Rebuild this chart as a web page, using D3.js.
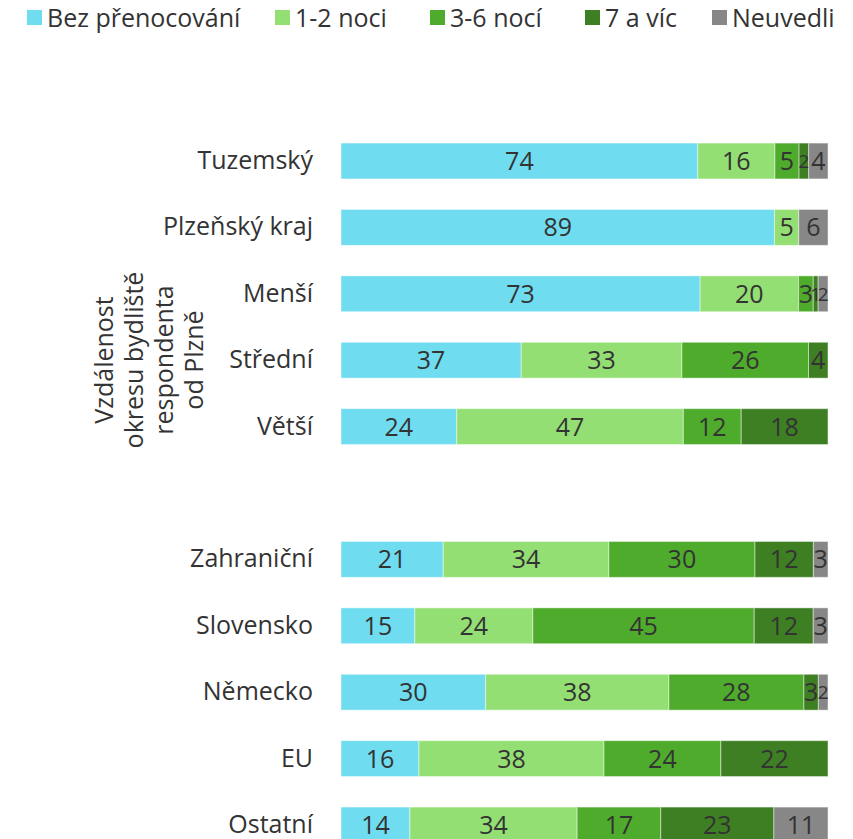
<!DOCTYPE html>
<html>
<head>
<meta charset="utf-8">
<script src="https://cdn.jsdelivr.net/npm/d3@7"></script>
<style>
  body { margin: 0; background: #fff; overflow: hidden; }
  svg text { font-family: "Open Sans", "Noto Sans", sans-serif; }
</style>
</head>
<body>
<div id="chart"></div>
<script>
const width = 853;
const height = 839;
const fontSize = 25;

// data
const categories = ["Tuzemský", "Plzeňský kraj", "Menší", "Střední", "Větší", "",
  "Zahraniční", "Slovensko", "Německo", "EU", "Ostatní"];
const seriesNames = ["Bez přenocování", "1-2 noci", "3-6 nocí", "7 a víc", "Neuvedli"];
const bezPrenocovani = [74, 89, 73, 37, 24, 0, 21, 15, 30, 16, 14];
const noci12 = [16, 5, 20, 33, 47, 0, 34, 24, 38, 38, 34];
const noci36 = [5, 0, 3, 26, 12, 0, 30, 45, 28, 24, 17];
const aVic7 = [2, 0, 1, 4, 18, 0, 12, 12, 3, 22, 23];
const neuvedli = [4, 6, 2, 0, 0, 0, 3, 3, 2, 0, 11];
const colorsList = ["#6fdcf0", "#93df74", "#4fab2b", "#3d7f22", "#878787"];

const seriesValues = [bezPrenocovani, noci12, noci36, aVic7, neuvedli];
const rows = categories.map((c, i) => {
  const r = { cat: c };
  seriesNames.forEach((s, j) => r[s] = seriesValues[j][i]);
  return r;
});

const svg = d3.select("#chart")
  .append("svg")
  .attr("width", width)
  .attr("height", height);

const margin = { left: 341, right: 25 };

const x = d3.scaleLinear()
  .domain([0, 1])
  .range([margin.left, width - margin.right]);

const y = d3.scaleBand()
  .domain(categories.map((c, i) => i))
  .range([127.8, 127.8 + 66.4 * categories.length])
  .paddingInner(0.46)
  .paddingOuter(0.23);

const color = d3.scaleOrdinal().domain(seriesNames).range(colorsList);

const stacked = d3.stack()
  .keys(seriesNames)
  .offset(d3.stackOffsetExpand)(rows);

// bars
const layers = svg.append("g")
  .selectAll("g")
  .data(stacked)
  .join("g")
  .attr("fill", d => color(d.key));

const segs = d => d.map((p, i) => ({ p, i, key: d.key })).filter(o => o.p.data[o.key] > 0);

layers.selectAll("rect")
  .data(segs)
  .join("rect")
  .attr("x", o => x(o.p[0]))
  .attr("y", o => y(o.i))
  .attr("width", o => x(o.p[1]) - x(o.p[0]))
  .attr("height", y.bandwidth())
  .attr("stroke", "rgba(255,255,255,0.45)")
  .attr("stroke-width", 1);

// value labels (tiny segments get a slightly smaller label so they don't collide)
layers.selectAll("text")
  .data(segs)
  .join("text")
  .attr("x", o => (x(o.p[0]) + x(o.p[1])) / 2)
  .attr("y", o => y(o.i) + y.bandwidth() / 2)
  .attr("dy", "0.36em")
  .attr("text-anchor", "middle")
  .attr("fill", "#333")
  .style("font-size", o => (x(o.p[1]) - x(o.p[0]) < 12 ? 19 : fontSize) + "px")
  .text(o => o.p.data[o.key]);

// category labels
const yAxis = d3.axisLeft(y)
  .tickSize(0)
  .tickPadding(28)
  .tickFormat(i => categories[i]);

svg.append("g")
  .attr("transform", `translate(${margin.left},0)`)
  .call(yAxis)
  .call(g => g.select(".domain").remove())
  .call(g => g.selectAll("text")
    .attr("fill", "#333")
    .style("font-size", fontSize + "px")
    .style("font-family", "\"Open Sans\", \"Noto Sans\", sans-serif"));

// axis title
const titleLines = ["Vzdálenost", "okresu bydliště", "respondenta", "od Plzně"];
const title = svg.append("text")
  .attr("transform", "translate(0,360) rotate(-90)")
  .attr("text-anchor", "middle")
  .attr("fill", "#333")
  .style("font-size", fontSize + "px");
title.selectAll("tspan")
  .data(titleLines)
  .join("tspan")
  .attr("x", 0)
  .attr("y", (d, i) => 113 + i * 30)
  .text(d => d);

// legend
const legendX = [27, 275, 430, 585, 712];
const legend = svg.append("g");
seriesNames.forEach((s, i) => {
  const g = legend.append("g").attr("transform", `translate(${legendX[i]},10)`);
  g.append("rect")
    .attr("width", 15)
    .attr("height", 15)
    .attr("fill", color(s));
  g.append("text")
    .attr("x", 20)
    .attr("y", 8)
    .attr("dy", "0.36em")
    .attr("fill", "#333")
    .style("font-size", fontSize + "px")
    .text(s);
});
</script>
</body>
</html>
